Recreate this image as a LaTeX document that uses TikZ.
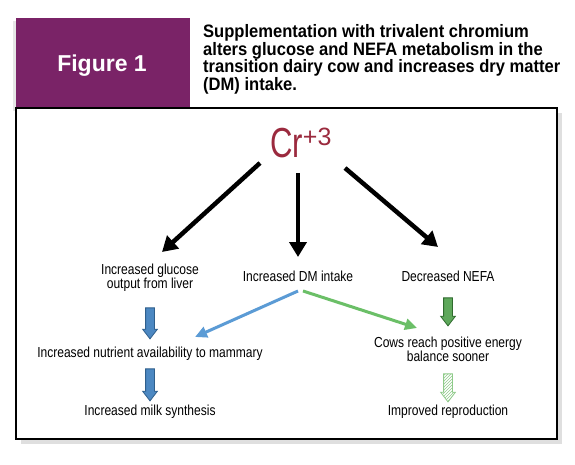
\documentclass[tikz,border=0pt]{standalone}
\usepackage{fontspec}
\setmainfont{Liberation Sans}
\newfontfamily\condfont[FakeStretch=0.83]{Liberation Sans}
\newfontfamily\titlefont[FakeStretch=0.92]{Liberation Sans}
\newfontfamily\crfont[FakeStretch=0.74]{Liberation Sans}
\usepackage{tikz}
\usetikzlibrary{arrows.meta,positioning,calc,shadows,shapes.arrows,patterns}
\definecolor{figpurple} {HTML}{7A2367}
\definecolor{crred}     {HTML}{9B2A3E}
\definecolor{bluefill}  {HTML}{4C88C2}
\definecolor{blueedge}  {HTML}{2F5F8C}
\definecolor{blueline}  {HTML}{5B9BD5}
\definecolor{greenline} {HTML}{6BBF67}
\definecolor{greenfill} {HTML}{5EA85B}
\definecolor{greenedge} {HTML}{2F6B2E}
\definecolor{lightgreen}{HTML}{8FCB8A}

\begin{document}
\begin{tikzpicture}[
  x=1pt, y=-1pt,
  tab/.style={fill=figpurple,minimum width=174,minimum height=90,inner sep=0pt,
              drop shadow={shadow xshift=-3pt,shadow yshift=-3pt,fill=black!20}},
  frame/.style={draw,fill=white,line width=1.2pt,minimum width=541,minimum height=331,
                inner sep=0pt,
                drop shadow={shadow xshift=5pt,shadow yshift=-5pt,fill=black!25}},
  lbl/.style={inner sep=0pt,align=center,
              font=\condfont\fontsize{14.5}{14}\selectfont},
  bigarr/.style={-{Triangle[length=15pt,width=17pt]},line width=4.5pt,black},
  thinarr/.style={-{Triangle[length=12pt,width=11pt]},line width=3pt},
  block/.style={single arrow,shape border rotate=270,inner sep=4pt,
                single arrow head extend=3pt,single arrow tip angle=75,
                line width=0.8pt},
  blockblue/.style={block,fill=bluefill,draw=blueedge},
  blockgreen/.style={block,fill=greenfill,draw=greenedge},
  blockhatch/.style={block,draw=lightgreen,pattern=north east lines,
                     pattern color=lightgreen}
]
\useasboundingbox (0,0) rectangle (575,465);

% --- header: purple tab and title ---
\node[tab] (tab) at (103,63) {};
\node[anchor=base,text=white,font=\bfseries\fontsize{23}{23}\selectfont]
  (fig) at (102,71.5) {Figure 1};
\node[anchor=north west,inner sep=0pt,align=left,
      font=\titlefont\bfseries\fontsize{18}{16}\selectfont] (title) at (203,24)
  {Supplementation with trivalent chromium\\
   alters glucose and NEFA metabolism in the\\
   transition dairy cow and increases dry matter\\
   (DM) intake.};

% --- frame ---
\node[frame] (frame) at (286.5,273.5) {};

% --- Cr+3 ---
\node[anchor=base west,inner sep=0pt,text=crred,
      font=\crfont\fontsize{42}{42}\selectfont] (cr) at (270,158)
  {Cr\raisebox{13pt}{\normalfont\fontsize{25}{25}\selectfont+3}};

% --- labels ---
\node[lbl,anchor=north] (gluc)  at (150,263.5) {Increased glucose\\output from liver};
\node[lbl,anchor=base]  (dmi)   at (298,281)   {Increased DM intake};
\node[lbl,anchor=base]  (nefa)  at (448,281)   {Decreased NEFA};
\node[lbl,anchor=base]  (nutr)  at (150,357)   {Increased nutrient availability to mammary};
\node[lbl,anchor=base]  (milk)  at (150,415.7) {Increased milk synthesis};
\node[lbl,anchor=north] (cows)  at (448,336.5) {Cows reach positive energy\\balance sooner};
\node[lbl,anchor=base]  (repro) at (448,415.7) {Improved reproduction};

% --- black arrows from Cr ---
\draw[bigarr] ($(cr.base west)+(-10,5)$)  -- ($(gluc.north)+(12,-11.5)$);
\draw[bigarr] ($(cr.base west)+(28,15)$)  -- ($(dmi.base)+(0,-24)$);
\draw[bigarr] ($(cr.base west)+(75,10)$)  -- ($(nefa.base)+(-10,-34)$);

% --- DM intake arrows ---
\draw[thinarr,blueline]  ($(dmi.base)+(0,10)$) -- ($(nutr.base)+(45,-20)$);
\draw[thinarr,greenline] ($(dmi.base)+(5,10)$) -- ($(cows.north)+(-31,-8.5)$);

% --- block arrows ---
\node[blockblue,minimum height=31]  (b1) at (150,320.5) {};
\node[blockblue,minimum height=32]  (b2) at (150,382)   {};
\node[blockgreen,minimum height=28] (g1) at (448,309)   {};
\node[blockhatch,minimum height=28] (g2) at (448,385)   {};
\end{tikzpicture}
\end{document}
